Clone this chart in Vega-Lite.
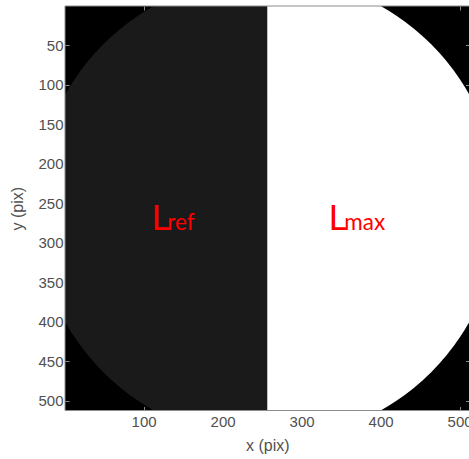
{
  "$schema": "https://vega.github.io/schema/vega-lite/v6.json",
  "width": 404.5,
  "height": 404.5,
  "autosize": "none",
  "padding": {"left": 65, "top": 6, "right": 0, "bottom": 49},
  "background": "white",
  "config": {
    "view": {"fill": "black", "stroke": null},
    "font": "Liberation Sans",
    "axis": {"zindex": 1, "grid": false, "tickColor": "#8c8c8c", "domainColor": "#8c8c8c", "labelColor": "#505050", "titleColor": "#505050", "labelFontSize": 15, "titleFontSize": 16, "titleFontWeight": "normal", "tickSize": -4, "domain": false}
  },
  "resolve": {"axis": {"x": "independent", "y": "independent"}},
  "layer": [
    {
      "data": {"values": [
        {"half": "Lref", "start": 180, "end": 360, "r": 293.5},
        {"half": "Lmax", "start": 0, "end": 180, "r": 293.5}
      ]},
      "mark": {"type": "arc", "clip": true},
      "encoding": {
        "theta": {"field": "start", "type": "quantitative", "scale": {"domain": [0, 360], "range": [0, 6.283185307]}},
        "theta2": {"field": "end"},
        "radius": {"field": "r", "type": "quantitative", "scale": {"type": "linear", "zero": true, "domain": [0, 512], "range": [0, 404.5]}},
        "color": {"field": "half", "type": "nominal", "scale": {"domain": ["Lref", "Lmax"], "range": ["#1a1a1a", "#ffffff"]}, "legend": null}
      }
    },
    {
      "data": {"values": [{"x0": 0.5, "x1": 512.5, "y0": 0.5, "y1": 512.5}]},
      "mark": {"type": "rect", "fill": null, "stroke": "#8c8c8c", "strokeWidth": 1},
      "encoding": {
        "x": {"field": "x0", "type": "quantitative", "scale": {"domain": [0.5, 512.5], "nice": false, "zero": false},
              "axis": {"orient": "bottom", "title": "x (pix)", "values": [100, 200, 300, 400, 500], "labelPadding": 8, "titlePadding": 8}},
        "x2": {"field": "x1"},
        "y": {"field": "y0", "type": "quantitative", "scale": {"domain": [0.5, 512.5], "nice": false, "zero": false, "reverse": true},
              "axis": {"orient": "left", "title": "y (pix)", "values": [50, 100, 150, 200, 250, 300, 350, 400, 450, 500], "labelPadding": 6, "titlePadding": 12}},
        "y2": {"field": "y1"}
      }
    },
    {
      "data": {"values": [{"x0": 0.5, "x1": 512.5, "y0": 0.5, "y1": 512.5}]},
      "mark": {"type": "rect", "fill": null, "stroke": null},
      "encoding": {
        "x": {"field": "x0", "type": "quantitative",
              "axis": {"orient": "top", "title": null, "labels": false, "values": [100, 200, 300, 400, 500]}},
        "x2": {"field": "x1"},
        "y": {"field": "y0", "type": "quantitative",
              "axis": {"orient": "right", "title": null, "labels": false, "values": [50, 100, 150, 200, 250, 300, 350, 400, 450, 500]}},
        "y2": {"field": "y1"}
      }
    },
    {
      "data": {"values": [
        {"label": "L", "x": 110, "y": 284},
        {"label": "L", "x": 334, "y": 284}
      ]},
      "mark": {"type": "text", "align": "left", "baseline": "alphabetic", "font": "Lato", "fontSize": 35, "color": "#ff0000"},
      "encoding": {
        "x": {"field": "x", "type": "quantitative", "axis": null},
        "y": {"field": "y", "type": "quantitative", "axis": null},
        "text": {"field": "label"}
      }
    },
    {
      "data": {"values": [
        {"label": "ref", "x": 130, "y": 284},
        {"label": "max", "x": 354, "y": 284}
      ]},
      "mark": {"type": "text", "align": "left", "baseline": "alphabetic", "font": "Lato", "fontSize": 22.5, "color": "#ff0000"},
      "encoding": {
        "x": {"field": "x", "type": "quantitative", "axis": null},
        "y": {"field": "y", "type": "quantitative", "axis": null},
        "text": {"field": "label"}
      }
    }
  ]
}
